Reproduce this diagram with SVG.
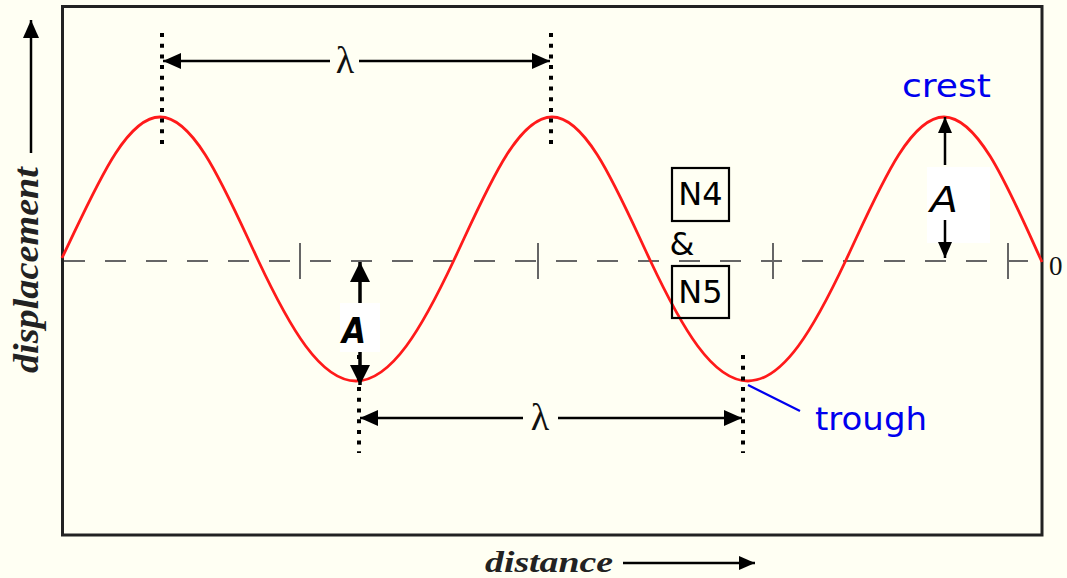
<svg xmlns="http://www.w3.org/2000/svg" width="1067" height="578" viewBox="0 0 1067 578">
<style>
.frame{fill:none;stroke:#222;stroke-width:3}
.wave{fill:none;stroke:#ff1a1a;stroke-width:2.8}
.base{fill:none;stroke:#666;stroke-width:2;stroke-dasharray:21 20}
.tick{stroke:#666;stroke-width:2}
.dots{stroke:#000;stroke-width:4;stroke-dasharray:4 6.7}
.arr{stroke:#000;stroke-width:2.5;fill:none}
.lam{font-family:"Liberation Serif",serif;font-size:38px;fill:#111;text-anchor:middle}
.ax{font-family:"Liberation Serif",serif;font-style:italic;font-weight:bold;fill:#222}
.lbl{font-family:"DejaVu Sans",sans-serif;fill:#0000ee;font-size:32px}
.nt{font-family:"DejaVu Sans",sans-serif;fill:#000;font-size:32px;text-anchor:middle}
.amp{font-family:"DejaVu Sans",sans-serif;fill:#000;font-size:36px;font-style:italic;text-anchor:middle}
.box{fill:none;stroke:#000;stroke-width:2.2}
.zero{font-family:"Liberation Serif",serif;font-size:27px;fill:#111}
</style>
<defs>
<marker id="ah" markerUnits="userSpaceOnUse" markerWidth="20" markerHeight="16" refX="18" refY="8" orient="auto-start-reverse"><path d="M0,0 L18,8 L0,16 Z" fill="#000"/></marker>
<marker id="ahA" markerUnits="userSpaceOnUse" markerWidth="22" markerHeight="20" refX="20" refY="10" orient="auto-start-reverse"><path d="M0,0 L20,10 L0,20 Z" fill="#000"/></marker>
<marker id="ahS" markerUnits="userSpaceOnUse" markerWidth="18" markerHeight="14" refX="16" refY="7" orient="auto-start-reverse"><path d="M0,0 L16,7 L0,14 Z" fill="#000"/></marker>
</defs>
<rect x="0" y="0" width="1067" height="578" fill="#fffff3"/>
<g id="frame"><rect class="frame" x="62.5" y="6.5" width="979.5" height="528.5"/></g>
<g id="baseline">
<line class="base" x1="64" y1="261" x2="1041" y2="261"/>
<line class="tick" x1="300" y1="243" x2="300" y2="279"/>
<line class="tick" x1="538" y1="243" x2="538" y2="279"/>
<line class="tick" x1="773" y1="243" x2="773" y2="279"/>
<line class="tick" x1="1008" y1="243" x2="1008" y2="279"/>
</g>
<g id="wave"><path class="wave" d="M62,258 C93.96,192 124.53,117 160,117 C195.47,117 226.04,192 258,260 C289.96,328 320.53,381 356,381 C391.47,381 422.04,328 454,260 C485.96,192 516.53,117 552,117 C587.47,117 618.04,192 650,260 C681.96,328 712.53,381 748,381 C783.47,381 814.04,328 846,260 C877.96,192 908.53,117 944,117 C979.47,117 1010.04,192 1042,262"/></g>
<g id="zero"><text class="zero" x="1049" y="275">0</text></g>
<g id="ylabel">
<text class="ax" transform="translate(38,373) rotate(-90)" font-size="36" textLength="206" lengthAdjust="spacingAndGlyphs">displacement</text>
</g>
<g id="xlabel">
<text class="ax" x="485" y="572" font-size="30" textLength="128" lengthAdjust="spacingAndGlyphs">distance</text>
</g>
<g id="connectors">
<line class="arr" x1="31" y1="153" x2="31" y2="20" marker-end="url(#ah)"/>
<line class="arr" x1="623" y1="563" x2="755" y2="563" marker-end="url(#ahS)"/>
<line class="dots" x1="162" y1="33" x2="162" y2="147"/>
<line class="dots" x1="551" y1="33" x2="551" y2="147"/>
<line class="dots" x1="359" y1="355" x2="359" y2="453"/>
<line class="dots" x1="743" y1="355" x2="743" y2="453"/>
<line class="arr" x1="330" y1="61" x2="163" y2="61" marker-end="url(#ah)"/>
<line class="arr" x1="359" y1="61" x2="550" y2="61" marker-end="url(#ah)"/>
<line class="arr" x1="523" y1="418" x2="360" y2="418" marker-end="url(#ah)"/>
<line class="arr" x1="558" y1="418" x2="742" y2="418" marker-end="url(#ah)"/>
<line x1="748" y1="385" x2="800" y2="411" stroke="#0000ee" stroke-width="2.2"/>
</g>
<g id="lambda-top"><text class="lam" x="345" y="73">λ</text></g>
<g id="lambda-bottom"><text class="lam" x="540" y="430">λ</text></g>
<g id="amp-crest">
<rect x="927" y="167" width="63" height="76" fill="#fff"/>
<line class="arr" x1="945" y1="165" x2="945" y2="117" marker-end="url(#ahS)"/>
<line class="arr" x1="945" y1="220" x2="945" y2="258" marker-end="url(#ahS)"/>
<text class="amp" x="944" y="212" textLength="28" lengthAdjust="spacingAndGlyphs">A</text>
</g>
<g id="amp-trough">
<rect x="340" y="303" width="40" height="49" fill="#fff"/>
<line x1="360" y1="303" x2="360" y2="262" stroke="#000" stroke-width="3.5" marker-end="url(#ahA)"/>
<line x1="360" y1="352" x2="360" y2="385" stroke="#000" stroke-width="3.5" marker-end="url(#ahA)"/>
<text class="amp" x="354" y="343" font-weight="bold" textLength="24" lengthAdjust="spacingAndGlyphs">A</text>
</g>
<g id="crest"><text class="lbl" x="902" y="97" textLength="89" lengthAdjust="spacingAndGlyphs">crest</text></g>
<g id="trough"><text class="lbl" x="815" y="430" textLength="112" lengthAdjust="spacingAndGlyphs">trough</text></g>
<g id="N4">
<rect class="box" x="672" y="168" width="57" height="53"/>
<text class="nt" x="700.5" y="205">N4</text>
</g>
<g id="amp-sign"><text class="nt" x="682" y="255" font-size="26">&amp;</text></g>
<g id="N5">
<rect class="box" x="672" y="266" width="57" height="52"/>
<text class="nt" x="700.5" y="303">N5</text>
</g>
</svg>
